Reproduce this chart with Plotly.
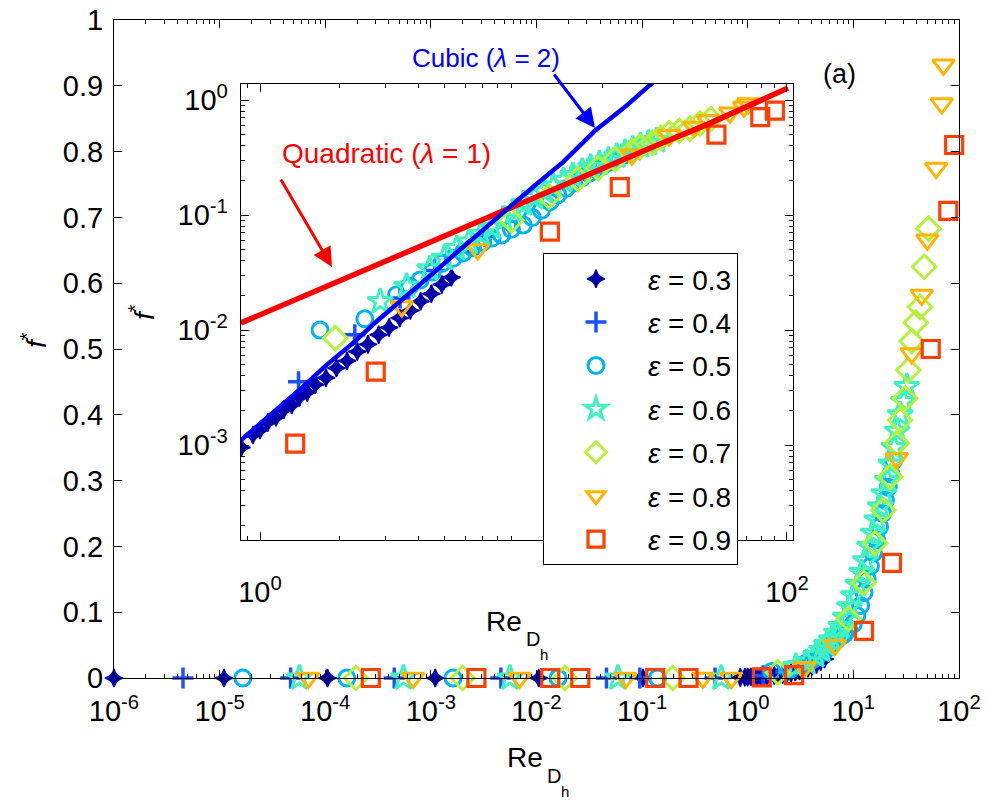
import plotly.graph_objects as go

FONT = "Liberation Sans, Arial, sans-serif"

# ---------------- data ----------------
labels = ["0.3", "0.4", "0.5", "0.6", "0.7", "0.8", "0.9"]
colors = ["#0000a8", "#1a50ff", "#00b4f0", "#40f0c0", "#b4f03c", "#ffb400", "#ff4000"]
symbols = ["star-diamond", "cross-thin-open", "circle-open", "star-open",
           "diamond-open", "triangle-down-open", "square-open"]
msizes = [13, 15, 16, 19, 18, 19, 17]
mlines = [1.5, 3.5, 3, 3, 3, 3, 3.2]

re_03 = [1.0e-6, 1.1e-5, 1.05e-4, 1.1e-3, 1.05e-2, 0.102, 0.85,
         0.94, 1.0, 1.07, 1.15, 1.23, 1.32, 1.41, 1.51, 1.62, 1.78, 1.95,
         2.14, 2.34, 2.57, 2.82, 3.09, 3.39, 3.72, 4.07, 4.47, 4.90, 5.33]
f_03 = [0, 0, 0, 0, 0, 0, 0.00095,
        0.00122, 0.00135, 0.00157, 0.00174, 0.00203, 0.00223, 0.00260, 0.00287, 0.00335, 0.00385, 0.00468,
        0.0054, 0.0065, 0.0075, 0.0091, 0.0105, 0.0127, 0.0148, 0.0178, 0.0207, 0.0249, 0.0288]

re_04 = [4.5e-6, 4.7e-5, 4.5e-4, 4.6e-3, 4.6e-2, 0.095, 0.49, 1.40, 2.29, 3.4, 4.6, 5.8, 7.14]
f_04 = [0, 0, 0, 0, 0, 0, 0, 0.00355, 0.0091, 0.019, 0.033, 0.048, 0.065]

re_05 = [1.66e-5, 1.6e-4, 1.62e-3, 1.6e-2, 0.14, 1.69, 2.50,
         3.3, 3.7, 4.05, 4.5, 4.9, 5.4, 5.9, 6.4, 7.0, 7.6, 8.26, 9.0, 9.98,
         10.8, 11.7, 12.6, 13.5, 14.5, 15.5, 16.6, 17.7, 18.9, 20.1, 21.4, 22.7, 24.0]
f_05 = [0, 0, 0, 0, 0, 0.0100, 0.0125,
        0.0203, 0.024, 0.0272, 0.032, 0.038, 0.042, 0.047, 0.052, 0.058, 0.063, 0.067, 0.075, 0.082,
        0.095, 0.11, 0.13, 0.15, 0.17, 0.19, 0.21, 0.23, 0.25, 0.27, 0.29, 0.31, 0.33]

re_06 = [5.7e-5, 5.5e-4, 5.6e-3, 5.9e-2, 0.56,
         2.86, 3.6, 4.4, 5.0, 5.58, 6.2, 6.9, 7.6, 8.4, 9.2, 10.0, 11.0, 12.0, 13.0,
         14.2, 15.4, 16.7, 18.0, 19.4, 21.0, 22.6, 24.3, 26.0, 27.8, 29.8, 32.0]
f_06 = [0, 0, 0, 0, 0,
        0.0177, 0.024, 0.034, 0.042, 0.051, 0.058, 0.068, 0.078, 0.092, 0.108, 0.125, 0.142, 0.16, 0.178,
        0.20, 0.22, 0.24, 0.26, 0.28, 0.30, 0.325, 0.35, 0.375, 0.40, 0.42, 0.443]

re_07 = [1.95e-4, 2.0e-3, 1.86e-2, 0.195, 1.93, 9.0, 12.5, 16.1, 19.2, 22.3, 25.8, 27.7,
         30.9, 33.2, 35.7, 39.0, 42.8, 46.8, 51.4]
f_07 = [0, 0, 0, 0, 0.0085, 0.09, 0.145, 0.205, 0.255, 0.306, 0.357, 0.392,
        0.425, 0.468, 0.512, 0.54, 0.564, 0.625, 0.683]

re_08 = [6.9e-5, 6.8e-4, 6.9e-3, 7.0e-2, 0.376, 0.70, 3.45, 6.7, 25.8, 35.7, 44.4, 50.1, 60.8, 68.7, 71.3]
f_08 = [0, 0, 0, 0, 0, 0, 0.016, 0.05, 0.334, 0.493, 0.582, 0.666, 0.775, 0.873, 0.932]

re_09 = [2.7e-4, 2.7e-3, 1.35e-2, 2.6e-2, 0.133, 0.275, 1.36, 2.75, 12.6, 23.2, 54.0, 79.2, 90.0]
f_09 = [0, 0, 0, 0, 0, 0, 0.00103, 0.00434, 0.0716, 0.175, 0.50, 0.71, 0.81]

series_re = [re_03, re_04, re_05, re_06, re_07, re_08, re_09]
series_f = [f_03, f_04, f_05, f_06, f_07, f_08, f_09]

# fitted curves in the inset
re_quad = [0.845, 1.259, 1.995, 3.162, 5.012, 7.943, 12.59, 19.95, 31.62, 50.12, 79.43, 100.9]
f_quad = [0.0115, 0.0170, 0.0266, 0.0417, 0.0668, 0.1035, 0.162, 0.257, 0.398, 0.617, 1.0, 1.27]
re_cub = [0.845, 1.122, 1.413, 1.778, 2.239, 2.818, 3.548, 4.467, 5.623, 7.079, 8.913,
          11.22, 14.13, 18.62, 23.99, 31.62]
f_cub = [0.00110, 0.00191, 0.00302, 0.0049, 0.0076, 0.0123, 0.0191, 0.0302, 0.0479, 0.0759, 0.117,
         0.186, 0.288, 0.537, 0.85, 1.48]

main_xticks = [1e-6, 1e-5, 1e-4, 1e-3, 1e-2, 1e-1, 1e0, 1e1, 1e2]
main_xticktext = ["10<sup>-6</sup>", "10<sup>-5</sup>", "10<sup>-4</sup>", "10<sup>-3</sup>",
                  "10<sup>-2</sup>", "10<sup>-1</sup>", "10<sup>0</sup>", "10<sup>1</sup>", "10<sup>2</sup>"]
main_yticks = [0, 0.1, 0.2, 0.3, 0.4, 0.5, 0.6, 0.7, 0.8, 0.9, 1]
main_yticktext = ["0", "0.1", "0.2", "0.3", "0.4", "0.5", "0.6", "0.7", "0.8", "0.9", "1"]
ins_xticks = [1, 100]
ins_xticktext = ["10<sup>0</sup>", "10<sup>2</sup>"]
ins_yticks = [1e-3, 1e-2, 1e-1, 1]
ins_yticktext = ["10<sup>-3</sup>", "10<sup>-2</sup>", "10<sup>-1</sup>", "10<sup>0</sup>"]

# ---------------- layout helpers ----------------
L, R, T, B = 114, 959, 20, 678
TICK_SIZE = 29


def px(x):
    return (x - L) / (R - L)


def py(y):
    return (B - y) / (B - T)


def minor_vals(d0, d1):
    return [k * 10.0 ** d for d in range(d0, d1) for k in range(2, 10)]


fig = go.Figure()

for lbl, c, s, ms, lw, xs, ys in zip(labels, colors, symbols, msizes, mlines, series_re, series_f):
    mk = dict(symbol=s, size=ms, color=c, line=dict(color=c, width=lw))
    fig.add_trace(go.Scatter(x=xs, y=ys, mode="markers", marker=mk, name="<i>ε</i> = " + lbl,
                             legendgroup=lbl, cliponaxis=False, xaxis="x", yaxis="y"))
    fig.add_trace(go.Scatter(x=xs, y=ys, mode="markers", marker=mk, showlegend=False,
                             legendgroup=lbl, cliponaxis=True, xaxis="x2", yaxis="y2"))

fig.add_trace(go.Scatter(x=re_quad, y=f_quad, mode="lines", line=dict(color="#ff0000", width=5.5),
                         showlegend=False, xaxis="x2", yaxis="y2"))
fig.add_trace(go.Scatter(x=re_cub, y=f_cub, mode="lines", line=dict(color="#0000ff", width=4.5),
                         showlegend=False, xaxis="x2", yaxis="y2"))

axis_common = dict(showline=True, linecolor="black", linewidth=1, mirror="ticks", ticks="inside",
                   tickcolor="black", ticklen=8, showgrid=False, zeroline=False, automargin=False,
                   tickfont=dict(family=FONT, size=TICK_SIZE, color="black"))

fig.update_layout(
    width=988, height=800,
    margin=dict(l=L, r=988 - R, t=T, b=800 - B, autoexpand=False),
    paper_bgcolor="white", plot_bgcolor="white",
    font=dict(family=FONT, size=24, color="black"),
    xaxis=dict(type="log", range=[-6, 2], domain=[0, 1], anchor="y",
               tickmode="array", tickvals=main_xticks, ticktext=main_xticktext, ticklabelstandoff=7,
               minor=dict(tickmode="array", tickvals=minor_vals(-6, 2), ticks="inside", ticklen=4,
                          tickcolor="black", showgrid=False),
               **axis_common),
    yaxis=dict(range=[0, 1], domain=[0, 1], anchor="x", tickmode="array", tickvals=main_yticks,
               ticktext=main_yticktext, ticklabelstandoff=4, **axis_common),
    xaxis2=dict(type="log", range=[-0.0733, 2.023], domain=[px(240.7), px(793)], anchor="y2",
                tickmode="array", tickvals=ins_xticks, ticktext=ins_xticktext, ticklabelstandoff=26,
                minor=dict(tickmode="array", tickvals=minor_vals(-1, 3), ticks="inside", ticklen=4,
                           tickcolor="black", showgrid=False),
                **axis_common),
    yaxis2=dict(type="log", range=[-3.826, 0.1435], domain=[py(540), py(83.5)], anchor="x2",
                tickmode="array", tickvals=ins_yticks, ticktext=ins_yticktext, ticklabelstandoff=6,
                minor=dict(tickmode="array", tickvals=minor_vals(-4, 1), ticks="inside", ticklen=4,
                           tickcolor="black", showgrid=False),
                **axis_common),
    legend=dict(x=px(543), y=py(253), xanchor="left", yanchor="top",
                bgcolor="white", bordercolor="black", borderwidth=1,
                font=dict(family=FONT, size=28, color="black"),
                tracegroupgap=4, itemwidth=94),
    showlegend=True,
)

ann = []


def text(x, y, s, size=26, color="black", xanchor="center", yanchor="middle", angle=0):
    ann.append(dict(x=px(x), y=py(y), xref="paper", yref="paper", text=s, showarrow=False,
                    xanchor=xanchor, yanchor=yanchor, textangle=angle,
                    font=dict(family=FONT, size=size, color=color)))


# main axis labels
text(545, 757, "Re", 28, xanchor="right")
text(545, 776, "D", 20, xanchor="left")
text(559, 791, "h", 15, xanchor="left")
text(34, 340, "<i>f</i><sup>*</sup>", 28, angle=-90)
# inset axis labels
text(524, 621, "Re", 28, xanchor="right")
text(524, 639, "D", 20, xanchor="left")
text(538, 654, "h", 15, xanchor="left")
text(142, 312, "<i>f</i><sup>*</sup>", 28, angle=-90)
# panel label and curve labels
text(839, 74, "(a)", 27)
text(486, 58, "Cubic (<i>λ</i> = 2)", 26, color="#0000ff")
text(386, 153, "Quadratic (<i>λ</i> = 1)", 28, color="#ff0000")

# arrows
for tip, tail, col in [((595, 128), (553, 73), "#0000ff"), ((332, 267), (280, 178), "#ff0000")]:
    ann.append(dict(x=px(tip[0]), y=py(tip[1]), xref="paper", yref="paper", text="",
                    showarrow=True, ax=tail[0] - tip[0], ay=tail[1] - tip[1],
                    arrowhead=2, arrowsize=1.3, arrowwidth=3, arrowcolor=col))

fig.update_layout(annotations=ann)
fig.write_html("out.html")
